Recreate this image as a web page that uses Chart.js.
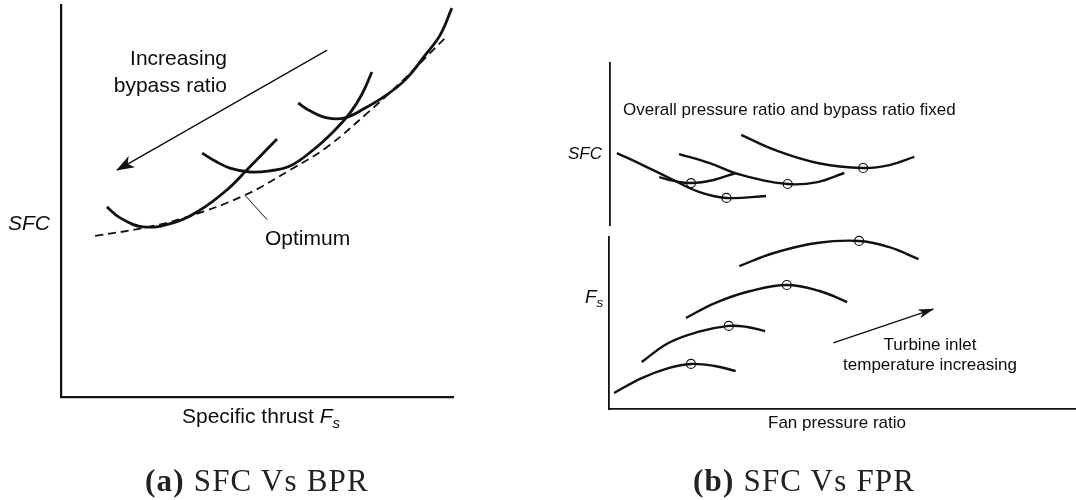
<!DOCTYPE html>
<html>
<head>
<meta charset="utf-8">
<title>SFC trends</title>
<script src="https://cdn.jsdelivr.net/npm/chart.js@4"></script>
<style>
  body { margin: 0; background: #fff; }
  #page { position: relative; width: 1076px; height: 500px; overflow: hidden;
          font-family: "Liberation Sans", Arial, sans-serif; color: #0d0d0d; }
  canvas { position: absolute; }
  .lbl { position: absolute; white-space: nowrap; line-height: 1; }
  .l { font-size: 21px; }
  .r { font-size: 17px; }
  .sub { font-size: 0.72em; position: relative; top: 0.3em; }
  .cap { font-family: "Liberation Serif", serif; font-size: 31px; letter-spacing: 1.2px; color: #222; }
</style>
</head>
<body>
<div id="page">
  <canvas id="bprChart" width="470" height="440" style="left:0;top:0"></canvas>
  <canvas id="sfcChart" width="516" height="185" style="left:560px;top:50px"></canvas>
  <canvas id="fsChart" width="530" height="200" style="left:560px;top:230px"></canvas>

  <!-- panel (a) labels -->
  <div class="lbl l" style="left:0;width:227px;text-align:right;top:47px">Increasing</div>
  <div class="lbl l" style="left:0;width:227px;text-align:right;top:74px">bypass ratio</div>
  <div class="lbl l" style="left:8px;top:212px"><i>SFC</i></div>
  <div class="lbl l" style="left:265px;top:227px">Optimum</div>
  <div class="lbl l" style="left:182px;top:405px">Specific thrust <i>F<span class="sub">s</span></i></div>

  <!-- panel (b) labels -->
  <div class="lbl r" style="left:623px;top:101px">Overall pressure ratio and bypass ratio fixed</div>
  <div class="lbl r" style="left:568px;top:145px"><i>SFC</i></div>
  <div class="lbl r" style="left:585px;top:287px;font-size:19px"><i>F<span class="sub">s</span></i></div>
  <div class="lbl r" style="left:800px;width:260px;text-align:center;top:336px">Turbine inlet</div>
  <div class="lbl r" style="left:800px;width:260px;text-align:center;top:356px">temperature increasing</div>
  <div class="lbl r" style="left:768px;top:414px">Fan pressure ratio</div>

  <div class="lbl cap" style="left:145px;top:465px"><b>(a)</b> SFC Vs BPR</div>
  <div class="lbl cap" style="left:693px;top:465px"><b>(b)</b> SFC Vs FPR</div>
</div>

<script>
// ---- panel (a): SFC against specific thrust, one loop per bypass ratio ----
const optimumX = [8.7, 20.9, 32.1, 46.9, 58.4, 67.9, 78.1, 86.5, 98.5];
const optimumY = [41.1, 43.1, 45.9, 51.5, 57.9, 63.8, 72.4, 80.1, 92.1];

const bpr1X = [11.7, 15.1, 20.9, 28.6, 35.5, 42.3, 47.4, 55.1];
const bpr1Y = [48.5, 45.7, 43.4, 44.4, 47.7, 52.8, 57.9, 65.8];

const bpr2X = [36.0, 39.3, 43.1, 48.2, 53.3, 58.4, 64.3, 69.4, 73.7, 76.8, 79.3];
const bpr2Y = [62.2, 60.2, 58.4, 57.4, 57.7, 58.9, 63.0, 67.6, 72.4, 77.3, 82.9];

const bpr3X = [60.5, 63.5, 67.9, 72.4, 77.6, 82.7, 87.8, 92.9, 96.7, 99.7];
const bpr3Y = [75.0, 73.0, 71.2, 71.2, 73.7, 76.8, 80.9, 87.2, 92.3, 99.2];

const bprArrowX = [67.9, 14.3];
const bprArrowY = [88.5, 57.9];
const leaderX = [46.9, 52.6];
const leaderY = [51.5, 45.2];

// ---- panel (b): SFC and specific thrust against fan pressure ratio ----
const sfcCurvesX = [
  [1.5, 7.1, 12.9, 19.3, 25.3, 33.9],
  [10.7, 13.9, 17.6, 22.5, 27.3],
  [15.0, 21.5, 28.5, 38.6, 45.1, 50.9],
  [28.5, 35.8, 45.1, 55.0, 60.7, 66.1]
];
const sfcCurvesY = [
  [44.4, 37.0, 29.0, 20.4, 16.7, 17.9],
  [29.6, 27.2, 25.9, 27.8, 32.1],
  [43.8, 38.3, 30.9, 25.3, 26.5, 32.1],
  [55.6, 46.3, 38.3, 35.2, 37.0, 42.0]
];

const fsCurvesX = [
  [1.1, 7.1, 12.9, 17.8, 23.0, 27.5],
  [7.1, 12.9, 19.3, 26.0, 30.0, 33.9],
  [16.7, 23.0, 30.7, 38.6, 45.7, 51.7],
  [28.3, 35.8, 45.1, 54.3, 60.7, 67.2]
];
const fsCurvesY = [
  [9.3, 18.0, 23.8, 26.2, 25.0, 22.1],
  [27.3, 38.4, 44.8, 48.3, 47.7, 45.3],
  [52.9, 61.6, 68.6, 72.1, 68.6, 62.2],
  [83.1, 90.7, 96.5, 97.7, 94.2, 87.2]
];

const titArrowX = [48.7, 70.4];
const titArrowY = [38.4, 58.1];

const ink = '#111';

function pts(xs, ys) {
  return xs.map((x, i) => ({ x: x, y: ys[i] }));
}

// pick the vertex where a curve turns (lowest SFC / highest thrust)
function extremum(xs, ys, wantMax) {
  let k = 0;
  ys.forEach((y, i) => { if (wantMax ? y > ys[k] : y < ys[k]) k = i; });
  return { x: xs[k], y: ys[k] };
}

function curve(data, width, extra) {
  return Object.assign({
    data: data,
    borderColor: ink,
    borderWidth: width,
    tension: 0.4,
    pointRadius: 0,
    fill: false,
    clip: false
  }, extra || {});
}

function markers(data) {
  return {
    data: data,
    showLine: false,
    pointRadius: 4.5,
    pointStyle: 'circle',
    pointBackgroundColor: 'rgba(255,255,255,0)',
    pointBorderColor: ink,
    pointBorderWidth: 1.2,
    clip: false
  };
}

// filled barbed head at the last point of any dataset carrying arrowHead
const arrowHeads = {
  id: 'arrowHeads',
  afterDatasetsDraw(chart) {
    const ctx = chart.ctx;
    chart.data.datasets.forEach((ds, i) => {
      if (!ds.arrowHead) return;
      const els = chart.getDatasetMeta(i).data;
      const tip = els[els.length - 1];
      const tail = els[els.length - 2];
      const ang = Math.atan2(tip.y - tail.y, tip.x - tail.x);
      const len = ds.arrowHead.length;
      const half = ds.arrowHead.width / 2;
      ctx.save();
      ctx.translate(tip.x, tip.y);
      ctx.rotate(ang);
      ctx.beginPath();
      ctx.moveTo(1, 0);
      ctx.lineTo(-len, -half);
      ctx.lineTo(-len * 0.72, 0);
      ctx.lineTo(-len, half);
      ctx.closePath();
      ctx.fillStyle = ds.borderColor;
      ctx.fill();
      ctx.restore();
    });
  }
};

function axis(show, width, max) {
  return {
    type: 'linear', min: 0, max: max || 100, display: show,
    ticks: { display: false },
    grid: { display: false, drawTicks: false },
    border: { display: true, color: ink, width: width }
  };
}

function options(pad, showX, axisWidth, xMax) {
  return {
    responsive: false,
    animation: false,
    events: [],
    layout: { padding: pad },
    plugins: { legend: { display: false }, tooltip: { enabled: false } },
    scales: { x: axis(showX, axisWidth, xMax), y: axis(true, axisWidth) }
  };
}

new Chart(document.getElementById('bprChart'), {
  type: 'line',
  data: {
    datasets: [
      curve(pts(optimumX, optimumY), 1.8, { borderDash: [8, 5] }),
      curve(pts(bpr1X, bpr1Y), 2.8),
      curve(pts(bpr2X, bpr2Y), 2.8),
      curve(pts(bpr3X, bpr3Y), 2.8),
      curve(pts(leaderX, leaderY), 1, { tension: 0 }),
      curve(pts(bprArrowX, bprArrowY), 1.4, { tension: 0, arrowHead: { length: 17, width: 13 } })
    ]
  },
  options: options({ left: 61, top: 5, right: 17, bottom: 43 }, true, 2.2),
  plugins: [arrowHeads]
});

const sfcSets = sfcCurvesX.map((xs, i) => curve(pts(xs, sfcCurvesY[i]), 2.4));
sfcSets.push(markers(sfcCurvesX.map((xs, i) => extremum(xs, sfcCurvesY[i], false))));

new Chart(document.getElementById('sfcChart'), {
  type: 'line',
  data: { datasets: sfcSets },
  options: options({ left: 50, top: 13, right: 0, bottom: 10 }, false, 1.8)
});

const fsSets = fsCurvesX.map((xs, i) => curve(pts(xs, fsCurvesY[i]), 2.4));
fsSets.push(markers(fsCurvesX.map((xs, i) => extremum(xs, fsCurvesY[i], true))));
fsSets.push(curve(pts(titArrowX, titArrowY), 1.4, { tension: 0, arrowHead: { length: 15, width: 9 } }));

// the fan-pressure axis runs past the page edge, so x max is stretched to keep
// the same horizontal scale as the SFC plot above it
new Chart(document.getElementById('fsChart'), {
  type: 'line',
  data: { datasets: fsSets },
  options: options({ left: 49, top: 7, right: 0, bottom: 21 }, true, 1.8, 103.2),
  plugins: [arrowHeads]
});
</script>
</body>
</html>
